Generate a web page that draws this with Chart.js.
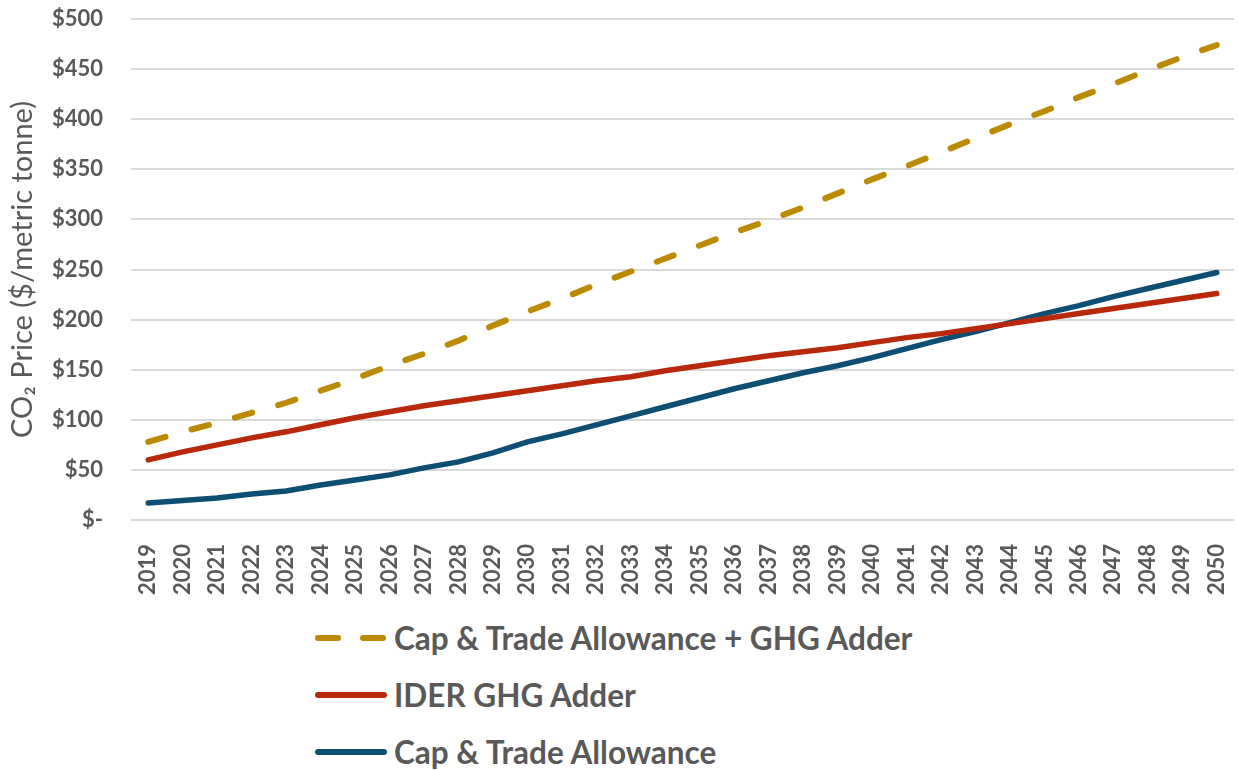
<!DOCTYPE html>
<html>
<head>
<meta charset="utf-8">
<script src="https://cdn.jsdelivr.net/npm/chart.js@4/dist/chart.umd.min.js"></script>
<style>
  body { margin: 0; background: #fff; }
  #wrap { position: relative; width: 1238px; height: 770px; }
  #legend { position: absolute; left: 312px; top: 609px; font-family: Lato, sans-serif; font-weight: bold; font-size: 31.5px; color: #595959; }
  .row { height: 57px; display: flex; align-items: center; white-space: nowrap; }
  .row svg { margin-right: 4px; }
</style>
</head>
<body>
<div id="wrap">
  <canvas id="co2" width="1238" height="600"></canvas>
  <div id="legend"></div>
</div>
<script>
// years on x axis
const years = ["2019","2020","2021","2022","2023","2024","2025","2026","2027","2028","2029","2030","2031","2032","2033","2034","2035","2036","2037","2038","2039","2040","2041","2042","2043","2044","2045","2046","2047","2048","2049","2050"];

// $/metric tonne
const capTradePlusAdder = [78,88,97,107,117,129,141,154,166,179,194,208,221,235,248,261,274,287,299,312,326,340,353,367,381,395,408,422,435,449,462,474];
const iderAdder = [60,68,75,82,88,95,102,108,114,119,124,129,134,139,143,149,154,159,164,168,172,177,182,186,191,196,201,206,211,216,221,226];
const capTrade = [17,19.5,22,26,29,35,40,45,52,58,67,78,86,95,104,113,122,131,139,147,154,162,171,180,188,197,206,214,223,231,239,247];

const yTicks = [0,50,100,150,200,250,300,350,400,450,500];

const grey = "#595959";

const ctx = document.getElementById("co2").getContext("2d");
const chart = new Chart(ctx, {
  type: "line",
  data: {
    labels: years,
    datasets: [
      {
        label: "Cap & Trade Allowance + GHG Adder",
        data: capTradePlusAdder,
        borderColor: "#BC8A00",
        borderWidth: 6,
        borderDash: [18, 27],
        borderCapStyle: "round",
        pointRadius: 0,
        tension: 0,
      },
      {
        label: "IDER GHG Adder",
        data: iderAdder,
        borderColor: "#B8290B",
        borderWidth: 5.5,
        borderCapStyle: "round",
        pointRadius: 0,
        tension: 0,
      },
      {
        label: "Cap & Trade Allowance",
        data: capTrade,
        borderColor: "#0D4F73",
        borderWidth: 5.5,
        borderCapStyle: "round",
        pointRadius: 0,
        tension: 0,
      },
    ],
  },
  options: {
    responsive: false,
    animation: false,
    layout: { padding: { top: 19, right: 4, left: 0, bottom: 0 } },
    plugins: {
      legend: { display: false },
      tooltip: { enabled: false },
    },
    scales: {
      x: {
        offset: true,
        grid: { display: false },
        border: { display: false },
        ticks: {
          autoSkip: false,
          minRotation: 90,
          maxRotation: 90,
          padding: 16,
          color: grey,
          font: { family: "Lato", size: 22, weight: "bold" },
        },
        afterFit: (scale) => {
          scale.height = 80;
          scale.paddingLeft = 0;
          scale.paddingRight = 0;
        },
      },
      y: {
        min: 0,
        max: 500,
        afterBuildTicks: (scale) => { scale.ticks = yTicks.map((v) => ({ value: v })); },
        grid: { color: "#D9D9D9", lineWidth: 2, drawTicks: false },
        border: { display: false },
        ticks: {
          padding: 28,
          color: grey,
          font: { family: "Lato", size: 22, weight: "bold" },
          callback: (v) => (v === 0 ? "$-" : "$" + v),
        },
        title: {
          display: true,
          text: "CO₂ Price ($/metric tonne)",
          color: grey,
          padding: { top: 5, bottom: 0 },
          font: { family: "Lato", size: 29 },
        },
        afterFit: (scale) => {
          scale.width = 131;
          scale.paddingTop = 0;
          scale.paddingBottom = 0;
        },
      },
    },
  },
});

// legend stacked under the chart, built from the datasets
const legendDiv = document.getElementById("legend");
chart.data.datasets.forEach((ds) => {
  const row = document.createElement("div");
  row.className = "row";
  const dash = ds.borderDash ? 'stroke-dasharray="20 25"' : "";
  row.innerHTML = `<svg width="78" height="12"><line x1="6" y1="6" x2="72" y2="6" stroke="${ds.borderColor}" stroke-width="6" stroke-linecap="round" ${dash}/></svg><span>${ds.label.replace("&", "&amp;")}</span>`;
  legendDiv.appendChild(row);
});
</script>
</body>
</html>
